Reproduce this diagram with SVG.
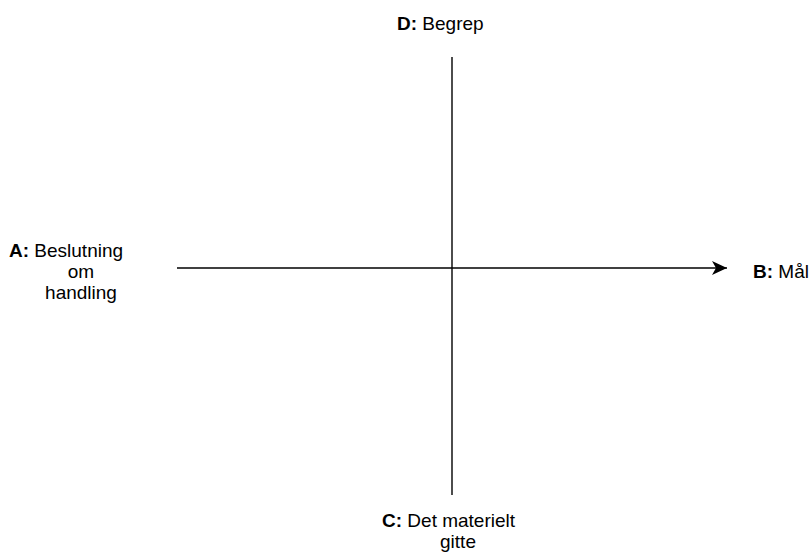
<svg xmlns="http://www.w3.org/2000/svg" width="810" height="554" viewBox="0 0 810 554">
<style>
text{font-family:"Liberation Sans",Arial,Helvetica,sans-serif;font-size:19px;fill:#000}
.b{font-weight:bold}
.ln{stroke:#000;stroke-width:1.4;fill:none}
</style>
<defs>
<marker id="arr" markerWidth="16" markerHeight="14" refX="15" refY="7" orient="auto" markerUnits="userSpaceOnUse">
<path d="M15,7 L0,0 L4,7 L0,14 Z" fill="#000"/>
</marker>
</defs>
<rect width="810" height="554" fill="#fff"/>
<g id="connectors">
<line class="ln" x1="452" y1="57" x2="452" y2="495"/>
<line class="ln" x1="177" y1="268" x2="727" y2="268" marker-end="url(#arr)"/>
</g>
<g id="nodeA">
<text x="9" y="257"><tspan class="b">A:</tspan> Beslutning</text>
<text x="81" y="278" text-anchor="middle">om</text>
<text x="81" y="299" text-anchor="middle">handling</text>
</g>
<g id="nodeB">
<text x="753" y="278"><tspan class="b">B:</tspan> Mål</text>
</g>
<g id="nodeD">
<text x="397" y="30"><tspan class="b">D:</tspan> Begrep</text>
</g>
<g id="nodeC">
<text x="382" y="527"><tspan class="b">C:</tspan> Det materielt</text>
<text x="458" y="548" text-anchor="middle">gitte</text>
</g>
</svg>
